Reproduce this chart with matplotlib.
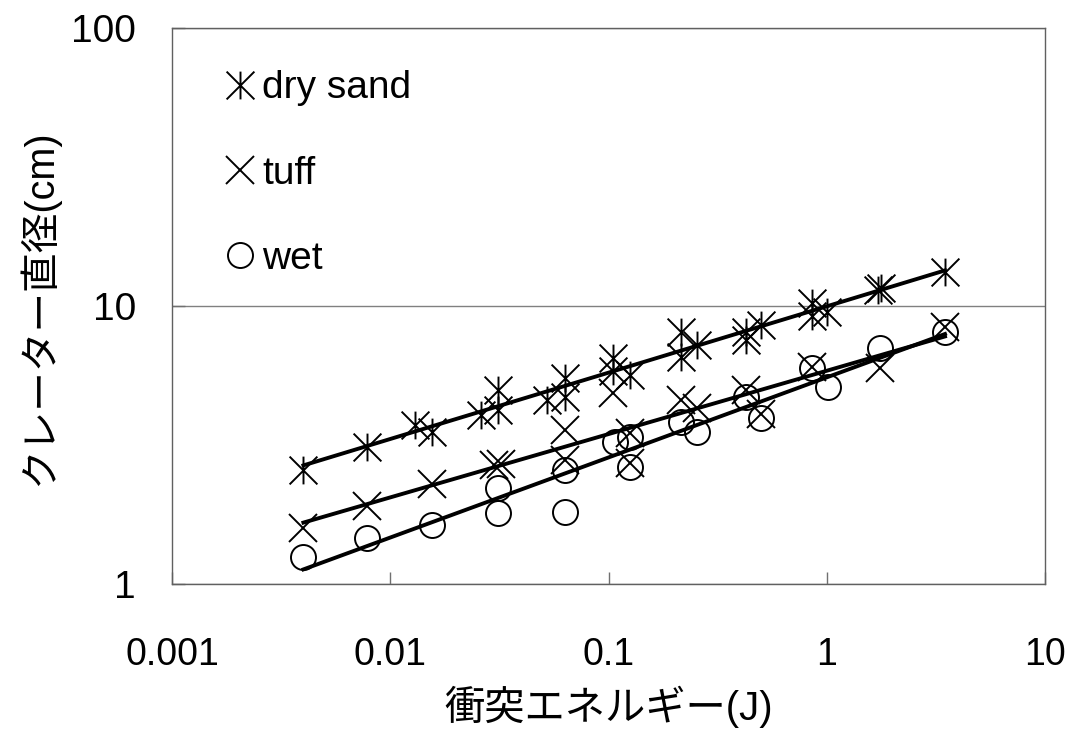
import numpy as np
import matplotlib
matplotlib.use("Agg")
import matplotlib.pyplot as plt
from matplotlib.path import Path
from matplotlib.ticker import NullLocator

plt.rcParams['font.family'] = ['Liberation Sans', 'Noto Sans CJK JP']

# data (energy J, crater diameter cm)
dry_x = [0.004, 0.0078, 0.013, 0.0155, 0.026, 0.031, 0.031, 0.052, 0.063, 0.063,
         0.105, 0.105, 0.125, 0.215, 0.215, 0.254, 0.427, 0.427, 0.50, 0.86,
         0.86, 1.0, 1.72, 1.78, 3.48]
dry_y = [2.57, 3.11, 3.73, 3.52, 4.06, 4.99, 4.23, 4.59, 5.49, 4.72,
         6.50, 5.84, 5.65, 8.08, 6.57, 7.24, 8.08, 7.55, 8.55, 10.25,
         9.2, 9.5, 11.4, 11.6, 13.25]

tuff_x = [0.004, 0.0078, 0.0155, 0.030, 0.032, 0.063, 0.063, 0.105, 0.125, 0.125,
          0.215, 0.254, 0.427, 0.50, 0.86, 1.75, 3.48]
tuff_y = [1.59, 1.91, 2.29, 2.68, 2.70, 3.58, 2.79, 4.86, 3.49, 2.73,
          4.59, 4.30, 4.99, 4.1, 6.05, 5.97, 8.43]

wet_x = [0.004, 0.0078, 0.0155, 0.031, 0.031, 0.063, 0.063, 0.107, 0.125, 0.125,
         0.215, 0.254, 0.427, 0.50, 0.86, 1.01, 1.75, 3.48]
wet_y = [1.25, 1.46, 1.63, 2.21, 1.80, 2.57, 1.82, 3.25, 3.39, 2.64,
         3.84, 3.53, 4.72, 3.94, 5.97, 5.13, 7.04, 8.09]

labels = ['dry sand', 'tuff', 'wet']
xticks = [0.001, 0.01, 0.1, 1, 10]
xticklabels = ['0.001', '0.01', '0.1', '1', '10']
yticks = [1, 10, 100]
yticklabels = ['1', '10', '100']

# excel-like "star" marker: x with a vertical bar
star = Path([(-1, -1), (1, 1), (-1, 1), (1, -1), (0, -1), (0, 1)],
            [Path.MOVETO, Path.LINETO, Path.MOVETO, Path.LINETO, Path.MOVETO, Path.LINETO])

fig = plt.figure(figsize=(10.69, 7.31), dpi=100)
ax = fig.add_axes([0.1609, 0.2011, 0.8167, 0.7606])

series = [(dry_x, dry_y, star, 20), (tuff_x, tuff_y, 'x', 20), (wet_x, wet_y, 'o', 18)]
handles = []
for (xs, ys, mk, ms), lab in zip(series, labels):
    h, = ax.plot(xs, ys, linestyle='none', marker=mk, markersize=ms,
                 markeredgecolor='black', markerfacecolor='none',
                 markeredgewidth=1.4, label=lab)
    handles.append(h)
    # power-law trend line
    p = np.polyfit(np.log10(xs), np.log10(ys), 1)
    lx = np.linspace(np.log10(min(xs)), np.log10(max(xs)), 50)
    ax.plot(10**lx, 10**np.polyval(p, lx), color='black', lw=2.8, zorder=3)

ax.set_xscale('log')
ax.set_yscale('log')
ax.set_xlim(0.001, 10)
ax.set_ylim(1, 100)
ax.set_xticks(xticks)
ax.set_xticklabels(xticklabels)
ax.set_yticks(yticks)
ax.set_yticklabels(yticklabels)
ax.xaxis.set_minor_locator(NullLocator())
ax.yaxis.set_minor_locator(NullLocator())
ax.tick_params(axis='x', direction='in', length=9, width=1, color='#707070',
               labelsize=27, pad=38)
ax.tick_params(axis='y', direction='in', length=9, width=1, color='#707070',
               labelsize=28, pad=26)
ax.grid(True, axis='y', which='major', color='#808080', lw=1)
for s in ax.spines.values():
    s.set_color('#606060')
    s.set_linewidth(1)

leg = ax.legend(handles=handles, loc='upper left', bbox_to_anchor=(0.06, 0.924),
                frameon=False, fontsize=28, handlelength=0.78, handletextpad=0.2,
                labelspacing=1.27, borderpad=0, borderaxespad=0)

fig.text(0.569, 1 - 707 / 731, '衝突エネルギー(J)', fontsize=29, ha='center', va='center')
fig.text(38 / 1069, 1 - 308 / 731, 'クレーター直径(cm)', fontsize=28.5, ha='center',
         va='center', rotation=90)

fig.savefig('out.png', dpi=100)
